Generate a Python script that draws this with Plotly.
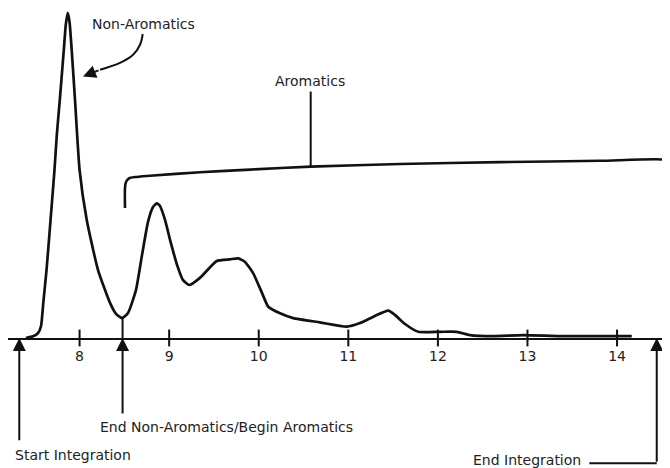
import plotly.graph_objects as go

# ---- data (x = retention time, y = relative response, %) ----
trace_x = [7.40, 7.480, 7.536, 7.570, 7.595, 7.631, 7.676, 7.720, 7.746, 7.779, 7.824,
           7.846, 7.868, 7.888, 7.912, 7.949, 8.000, 8.080, 8.206, 8.340, 8.407, 8.474,
           8.541, 8.630, 8.697, 8.764, 8.820, 8.861, 8.898, 8.954, 9.010, 9.088, 9.155,
           9.225, 9.344, 9.531, 9.679, 9.772, 9.847, 9.939, 10.037, 10.107, 10.238,
           10.386, 10.684, 10.982, 11.131, 11.298, 11.447, 11.521, 11.633, 11.781,
           12.024, 12.210, 12.359, 12.615, 12.950, 13.363, 13.810, 14.164]
trace_y = [0.0, 0.5, 1.5, 3.7, 10.8, 20.9, 36.3, 51.7, 62.5, 73.2, 88.6,
           96.3, 100.0, 97.2, 88.6, 73.2, 51.7, 36.3, 20.9, 10.8, 7.4, 6.1,
           7.7, 14.8, 25.5, 35.7, 40.3, 41.4, 40.6, 36.3, 30.2, 22.5, 17.8,
           16.3, 18.5, 23.7, 24.2, 24.5, 23.4, 19.9, 13.8, 9.6, 7.6,
           6.1, 4.8, 3.5, 4.6, 6.8, 8.4, 7.1, 4.3, 1.9,
           1.9, 1.9, 0.9, 0.6, 0.9, 0.6, 0.6, 0.6]

tick_vals = [8, 9, 10, 11, 12, 13, 14]
tick_text = ["8", "9", "10", "11", "12", "13", "14"]

# integration markers (x positions)
start_integration = 7.327
end_nonaromatics = 8.48
end_integration = 14.443
end_integration_leg_start = 13.674
valley_height = 6.1

# "Aromatics" bracket
bracket_x = [8.507, 8.507, 8.518, 8.552, 8.619, 8.786, 9.344, 9.903, 10.580, 11.577,
             12.693, 13.810, 14.547, 14.580]
bracket_y = [40.0, 46.2, 48.0, 49.1, 49.5, 49.9, 51.0, 51.8, 52.7, 53.5,
             54.1, 54.5, 54.8, 54.0]
bracket_stem_x = 10.580
bracket_stem_y = [52.7, 75.8]

# curved "Non-Aromatics" pointer
pointer_x = [8.705, 8.675, 8.597, 8.451, 8.228]
pointer_y = [93.5, 90.2, 87.1, 84.6, 82.5]
pointer_tip = (8.038, 80.4)

X_RANGE = [7.201, 14.591]
Y_MAX = 101.5

FONT = "DejaVu Sans"
INK = "#111111"
TXT = "#222222"

fig = go.Figure()

# chromatogram
fig.add_trace(go.Scatter(x=trace_x, y=trace_y, mode="lines",
                         line=dict(color=INK, width=2.7, shape="spline", smoothing=0.5),
                         hoverinfo="skip"))
# drop line at end of non-aromatics
fig.add_trace(go.Scatter(x=[end_nonaromatics, end_nonaromatics], y=[0, valley_height],
                         mode="lines", line=dict(color=INK, width=2), hoverinfo="skip"))
# bracket
fig.add_trace(go.Scatter(x=bracket_x, y=bracket_y, mode="lines",
                         line=dict(color=INK, width=2.6, shape="spline", smoothing=0.6),
                         hoverinfo="skip"))
fig.add_trace(go.Scatter(x=[bracket_stem_x, bracket_stem_x], y=bracket_stem_y, mode="lines",
                         line=dict(color=INK, width=2), hoverinfo="skip"))
# curved pointer body
fig.add_trace(go.Scatter(x=pointer_x, y=pointer_y, mode="lines",
                         line=dict(color=INK, width=2, shape="spline", smoothing=1),
                         hoverinfo="skip"))
# tick marks crossing the axis
fig.add_trace(go.Scatter(x=tick_vals, y=[0] * len(tick_vals), mode="markers",
                         marker=dict(symbol="line-ns", size=12, line=dict(color=INK, width=2)),
                         cliponaxis=False, hoverinfo="skip"))

ann = []
# pointer head
ann.append(dict(x=pointer_tip[0], y=pointer_tip[1], ax=pointer_x[-1], ay=pointer_y[-1],
                axref="x", ayref="y", xref="x", yref="y", text="", showarrow=True,
                arrowhead=2, arrowsize=1.3, arrowwidth=2, arrowcolor=INK))
# arrows below axis
for xv, tail in [(start_integration, -31.9), (end_nonaromatics, -23.7), (end_integration, -38.5)]:
    ann.append(dict(x=xv, y=0, ax=xv, ay=tail, axref="x", ayref="y", xref="x", yref="y",
                    text="", showarrow=True, arrowhead=2, arrowsize=1.3, arrowwidth=2,
                    arrowcolor=INK))
# horizontal leg of End Integration (pixel offset derived from axis scale)
px_per_unit = 662 / (X_RANGE[1] - X_RANGE[0])
ann.append(dict(x=end_integration, y=-38.5 / Y_MAX, xref="x", yref="paper",
                ax=-(end_integration - end_integration_leg_start) * px_per_unit, ay=0,
                axref="pixel", ayref="pixel", text="", showarrow=True, arrowhead=0,
                arrowwidth=2, arrowcolor=INK))

labels = [
    ("Non-Aromatics", 8.117, 96.6, "left"),
    ("Aromatics", 10.157, 79.1, "left"),
    ("End Non-Aromatics/Begin Aromatics", 8.206, -27.3, "left"),
    ("Start Integration", 7.256, -36.0, "left"),
    ("End Integration", 13.62, -37.4, "right"),
]
for t, xv, yv, anchor in labels:
    ann.append(dict(x=xv, y=yv / Y_MAX, xref="x", yref="paper", text=t, showarrow=False,
                    xanchor=anchor, yanchor="middle",
                    font=dict(family=FONT, size=14, color=TXT)))

fig.update_layout(
    width=662, height=460,
    margin=dict(l=0, r=0, t=0, b=130),
    paper_bgcolor="white", plot_bgcolor="white",
    showlegend=False,
    annotations=ann,
    xaxis=dict(range=X_RANGE, showgrid=False, zeroline=False,
               showline=True, linecolor=INK, linewidth=2,
               tickvals=tick_vals, ticktext=tick_text,
               ticks="outside", ticklen=4, tickcolor="rgba(0,0,0,0)",
               tickfont=dict(family=FONT, size=14, color=TXT)),
    yaxis=dict(range=[0, Y_MAX], visible=False, showgrid=False, zeroline=False),
)

fig.write_html("out.html")
